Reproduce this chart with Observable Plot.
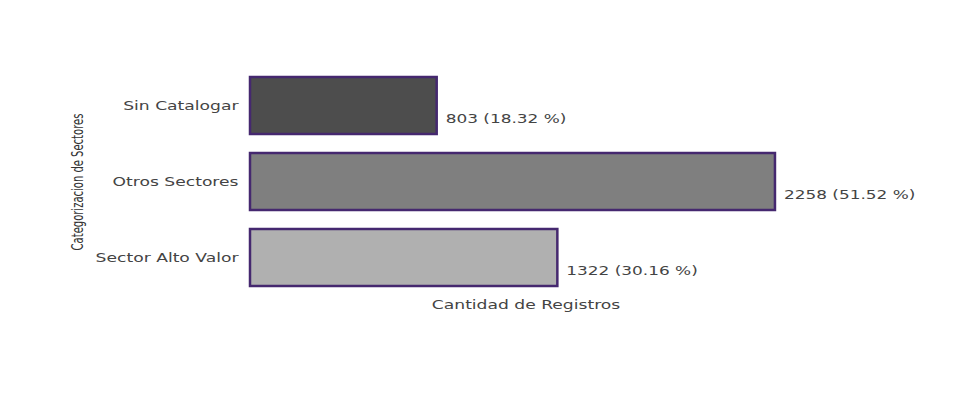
<!DOCTYPE html>
<html>
<head>
<meta charset="utf-8">
<script src="https://cdn.jsdelivr.net/npm/d3@7"></script>
<script src="https://cdn.jsdelivr.net/npm/@observablehq/plot@0.6"></script>
<style>
  html, body { margin: 0; padding: 0; background: #fff; }
</style>
</head>
<body>
<div id="chart"></div>
<script>
const categories = ["Sin Catalogar", "Otros Sectores", "Sector Alto Valor"];
const counts = [803, 2258, 1322];
const fills = ["#4d4d4d", "#7f7f7f", "#b0b0b0"];
const xTitle = "Cantidad de Registros";
const yTitle = "Categorizacion de Sectores";

const total = d3.sum(counts);
const data = categories.map((c, i) => ({
  cat: c,
  n: counts[i],
  fill: fills[i],
  label: `${counts[i]} (${(counts[i] / total * 100).toFixed(2)} %)`
}));

const FS = 11.5;
const chart = Plot.plot({
  width: 959,
  height: 412,
  marginTop: 68,
  marginBottom: 117,
  marginLeft: 250,
  marginRight: 158,
  style: { fontFamily: "DejaVu Sans, sans-serif", fontSize: FS + "px", color: "#444", background: "#fff" },
  x: { domain: [0, 2370], axis: null },
  y: { domain: categories, paddingInner: 0.245, paddingOuter: 0.1, label: null },
  marks: [
    Plot.barX(data, { x: "n", y: "cat", fill: "fill", stroke: "#45286f", strokeWidth: 2.5 }),
    Plot.axisY({ tickSize: 0, tickPadding: 12, label: null, fontSize: FS, fill: "#444", className: "stretch" }),
    Plot.text(data, { x: "n", y: "cat", text: "label", textAnchor: "start", dx: 8.5, dy: 13, fontSize: FS, fill: "#444", className: "stretch2" }),
    Plot.text([xTitle], { frameAnchor: "bottom", dy: 10, lineAnchor: "middle", fontSize: FS, fill: "#444", className: "stretch" }),
    Plot.text([yTitle], { frameAnchor: "left", textAnchor: "middle", rotate: -90, dx: -172, fontSize: 15, fill: "#333", className: "squeeze" })
  ]
});
document.getElementById("chart").appendChild(chart);

// the reference has horizontally widened glyphs
function adjust(sel, k) {
  chart.querySelectorAll(sel).forEach(t => {
    const len = t.getComputedTextLength();
    t.setAttribute("textLength", (len * k).toFixed(1));
    t.setAttribute("lengthAdjust", "spacingAndGlyphs");
  });
}
adjust(".stretch text", 1.49);
adjust(".stretch2 text", 1.47);
adjust(".squeeze text", 1 / 1.5);
</script>
</body>
</html>
